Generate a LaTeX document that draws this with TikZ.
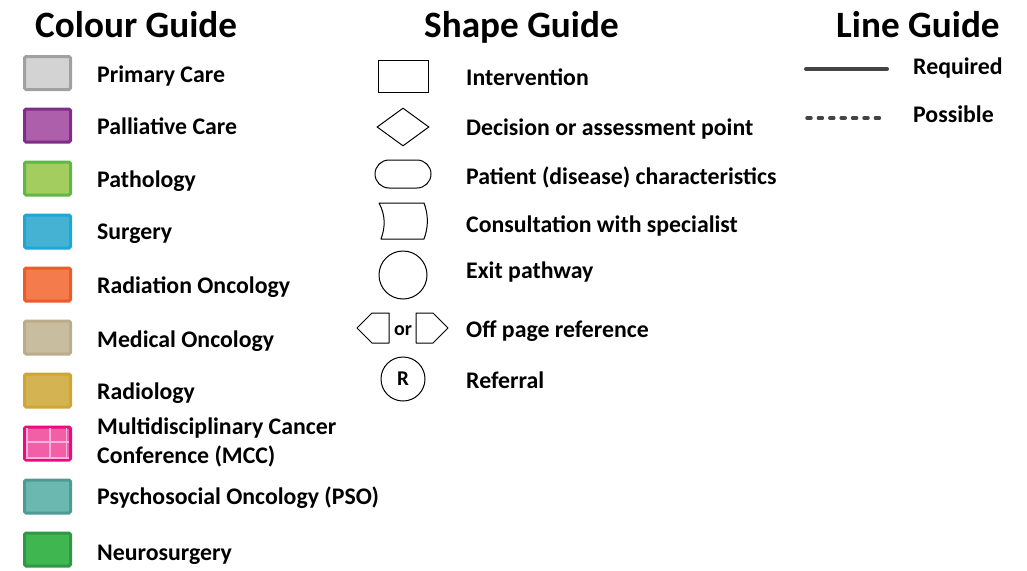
\documentclass[tikz,border=0pt]{standalone}
\usepackage{fontspec}
\setmainfont{Carlito}
\usepackage{xcolor}
\usetikzlibrary{shapes.geometric}
\definecolor{pcLine}{HTML}{A0A0A0}
\definecolor{pcFill}{HTML}{D3D3D3}
\definecolor{palLine}{HTML}{7E2E87}
\definecolor{palFill}{HTML}{AE5FAB}
\definecolor{pathLine}{HTML}{5DB847}
\definecolor{pathFill}{HTML}{A3CD5E}
\definecolor{surLine}{HTML}{1AA8D9}
\definecolor{surFill}{HTML}{45B1D3}
\definecolor{radLine}{HTML}{EE5A2A}
\definecolor{radFill}{HTML}{F47B4B}
\definecolor{medLine}{HTML}{BBAD8C}
\definecolor{medFill}{HTML}{C9BDA0}
\definecolor{rdgLine}{HTML}{CFA632}
\definecolor{rdgFill}{HTML}{D4B352}
\definecolor{mccLine}{HTML}{EC0A80}
\definecolor{mccFill}{HTML}{F25EA8}
\definecolor{mccGrid}{HTML}{F9B4DC}
\definecolor{psoLine}{HTML}{4E9B94}
\definecolor{psoFill}{HTML}{6AB8B0}
\definecolor{neuLine}{HTML}{2E9845}
\definecolor{neuFill}{HTML}{3FB650}
\definecolor{guideLine}{HTML}{444444}
\tikzset{
    every node/.style={font=\bfseries\fontsize{23.8}{29.5}\selectfont},
    title/.style={font=\bfseries\fontsize{37.2}{40}\selectfont, anchor=base west, inner sep=0},
    legtext/.style={anchor=base west, align=left, inner sep=0},
    swatch/.style 2 args={draw=#1, fill=#2, line width=3, minimum width=46, minimum height=33, rounded corners=1.5, inner sep=0},
    shapebox/.style={draw=black, line width=1, inner sep=0},
    shapepath/.style={draw=black, line width=1, line join=round}
}
\begin{document}
\begin{tikzpicture}[x=1pt, y=-1pt]
        \useasboundingbox (0,0) rectangle (1027,570);

        % titles
        \node[title] (colourT) at (35,37) {Colour Guide};
        \node[title] (shapeT) at (424,37) {Shape Guide};
        \node[title] (lineT) at (836,37) {Line Guide};

        % colour guide
        \node[swatch={pcLine}{pcFill}] (pc) at (47.5,73) {};
        \node[swatch={palLine}{palFill}] (pal) at (47.5,125.5) {};
        \node[swatch={pathLine}{pathFill}] (path) at (47.5,178.5) {};
        \node[swatch={surLine}{surFill}] (sur) at (47.5,231.5) {};
        \node[swatch={radLine}{radFill}] (rad) at (47.5,284.5) {};
        \node[swatch={medLine}{medFill}] (med) at (47.5,337.5) {};
        \node[swatch={rdgLine}{rdgFill}] (rdg) at (47.5,390.5) {};
        \node[swatch={mccLine}{mccFill}] (mcc) at (47.5,443.5) {};
        \draw[mccGrid, line width=1.3] (27,428) -- (27,459) (50,428) -- (50,459) (66.5,428) -- (66.5,459)
            (26,442) -- (69,442) (26,458) -- (69,458);
        \node[swatch={psoLine}{psoFill}] (pso) at (47.5,496.5) {};
        \node[swatch={neuLine}{neuFill}] (neu) at (47.5,549.5) {};

        \node[legtext] (pcT) at (97,82.5) {Primary Care};
        \node[legtext] (palT) at (97,134.5) {Palliative Care};
        \node[legtext] (pathT) at (97,187.5) {Pathology};
        \node[legtext] (surT) at (97,239.5) {Surgery};
        \node[legtext] (radT) at (97,293.5) {Radiation Oncology};
        \node[legtext] (medT) at (97,347.5) {Medical Oncology};
        \node[legtext] (rdgT) at (97,399) {Radiology};
        \node[legtext] (mccT) at (97,463.5) {Multidisciplinary Cancer\\Conference (MCC)};
        \node[legtext] (psoT) at (97,504.5) {Psychosocial Oncology (PSO)};
        \node[legtext] (neuT) at (97,560.5) {Neurosurgery};

        % shape guide
        \node[shapebox, rectangle, minimum width=50, minimum height=32] (interv) at (403,76) {};
        \node[shapebox, diamond, minimum width=52, minimum height=38] (decis) at (403,127) {};
        \node[shapebox, rectangle, rounded corners=14, minimum width=56, minimum height=28] (patient) at (403,174) {};
        \draw[shapepath] (379,203) -- (424,203) .. controls (428.5,215) and (428.5,227) .. (424,239)
            -- (381,239) .. controls (385.5,227) and (385.5,215) .. (379,203) -- cycle;
        \node[shapebox, circle, minimum size=48] (exitp) at (403,275) {};
        \draw[shapepath] (357,328) -- (372,313) -- (389,313) -- (389,343) -- (372,343) -- cycle;
        \node[inner sep=0, font=\bfseries\fontsize{20}{22}\selectfont] (orT) at (403,330.5) {or};
        \draw[shapepath] (416,313) -- (433,313) -- (448,328) -- (433,343) -- (416,343) -- cycle;
        \node[shapebox, circle, minimum size=44, font=\bfseries\fontsize{21}{22}\selectfont] (refer) at (403,379) {R};

        \node[legtext] (intervT) at (466,85.5) {Intervention};
        \node[legtext] (decisT) at (466,135.5) {Decision or assessment point};
        \node[legtext] (patientT) at (466,184.5) {Patient (disease) characteristics};
        \node[legtext] (consultT) at (466,232.5) {Consultation with specialist};
        \node[legtext] (exitT) at (466,278.5) {Exit pathway};
        \node[legtext] (offT) at (466,337.5) {Off page reference};
        \node[legtext] (referT) at (466,388.5) {Referral};

        % line guide
        \coordinate (reqA) at (806,69);
        \coordinate (reqB) at (887,69);
        \coordinate (posA) at (807,118);
        \coordinate (posB) at (885,118);
        \draw[guideLine, line width=4, line cap=round] (reqA) -- (reqB);
        \draw[guideLine, line width=3.5, line cap=round, dash pattern=on 4 off 7.4] (posA) -- (posB);
        \node[legtext] (reqT) at (913,74.5) {Required};
        \node[legtext] (posT) at (913,122.5) {Possible};
    \end{tikzpicture}
\end{document}
